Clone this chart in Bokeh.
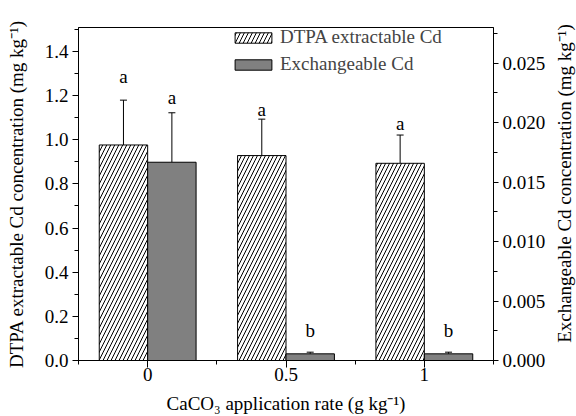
import math
import numpy as np
from bokeh.plotting import figure
from bokeh.models import (Range1d, LinearAxis, FixedTicker, SingleIntervalTicker,
                          ColumnDataSource, Whisker, TeeHead, Legend, LegendItem,
                          NumeralTickFormatter, Label)
from bokeh.core.properties import value
from bokeh.embed import file_html
from bokeh.resources import INLINE

# ---- data ----
rates = ["0", "0.5", "1"]
dtpa = [0.976, 0.928, 0.893]
dtpa_err = [0.203, 0.165, 0.128]
exch = [0.01667, 0.00056, 0.00056]
exch_err = [0.00416, 0.00014, 0.00014]
dtpa_letters = ["a", "a", "a"]
dtpa_letter_y = [1.284, 1.135, 1.072]
exch_letters = ["a", "b", "b"]
exch_letter_y = [1.19, 0.138, 0.138]

FONT = "Liberation Serif"
FS = "19px"
xs = np.arange(len(rates))
bw = 0.35

p = figure(width=576, height=416, output_backend="svg", toolbar_location=None,
           x_range=Range1d(-0.5, 2.5), y_range=Range1d(0, 1.508),
           min_border_left=78, min_border_right=83, min_border_top=27, min_border_bottom=55)
p.extra_y_ranges = {"right": Range1d(0, 0.028)}
p.grid.visible = False
p.outline_line_color = "black"
p.outline_line_width = 1
p.background_fill_color = "white"
p.border_fill_color = "white"

src_d = ColumnDataSource(dict(x=xs - bw / 2, top=dtpa, up=np.array(dtpa) + np.array(dtpa_err),
                              lab=dtpa_letters, ly=dtpa_letter_y))
src_e = ColumnDataSource(dict(x=xs + bw / 2, top=exch, up=np.array(exch) + np.array(exch_err),
                              lab=exch_letters, ly=exch_letter_y))

r1 = p.vbar(x="x", top="top", width=bw, source=src_d, fill_color="white", line_color="black",
            line_width=1, hatch_pattern="/", hatch_color="black", hatch_scale=8, hatch_weight=1)
r2 = p.vbar(x="x", top="top", width=bw, source=src_e, fill_color="#808080", line_color="black",
            line_width=1, y_range_name="right")

w1 = Whisker(base="x", lower="top", upper="up", source=src_d, line_color="black", line_width=1,
             upper_head=TeeHead(size=7, line_color="black", line_width=1), lower_head=None)
w2 = Whisker(base="x", lower="top", upper="up", source=src_e, line_color="black", line_width=1,
             upper_head=TeeHead(size=7, line_color="black", line_width=1), lower_head=None,
             y_range_name="right")
p.add_layout(w1)
p.add_layout(w2)

p.text(x="x", y="ly", text="lab", source=src_d, text_font=value(FONT), text_font_size=FS,
       text_align="center", text_baseline="middle", text_color="black")
p.text(x="x", y="ly", text="lab", source=src_e, text_font=value(FONT), text_font_size=FS,
       text_align="center", text_baseline="middle", text_color="black")

# axes
p.xaxis.ticker = FixedTicker(ticks=list(xs), minor_ticks=[-0.5, 0.5, 1.5, 2.5])
p.xaxis.major_label_overrides = {int(i): r for i, r in zip(xs, rates)}
p.xaxis.axis_label = "CaCO\u2083 application rate (g kg\u207b\u00b9)"

p.yaxis.ticker = SingleIntervalTicker(interval=0.2, num_minor_ticks=2)
p.yaxis.formatter = NumeralTickFormatter(format="0.0")
p.yaxis.axis_label = "DTPA extractable Cd concentration (mg kg\u207b\u00b9)"

ra = LinearAxis(y_range_name="right", ticker=SingleIntervalTicker(interval=0.005, num_minor_ticks=2),
                formatter=NumeralTickFormatter(format="0.000"))
p.add_layout(ra, "right")

for ax in [p.xaxis[0], p.yaxis[0], ra]:
    ax.axis_line_color = "black"
    ax.major_tick_line_color = "black"
    ax.minor_tick_line_color = "black"
    ax.major_tick_in = 0
    ax.major_tick_out = 6
    ax.minor_tick_in = 0
    ax.minor_tick_out = 4
    ax.major_label_text_font = FONT
    ax.major_label_text_font_size = FS
    ax.major_label_text_color = "black"
    ax.axis_label_text_font = FONT
    ax.axis_label_text_font_size = FS
    ax.axis_label_text_font_style = "normal"
    ax.axis_label_text_color = "black"
    ax.major_label_standoff = 4
    ax.axis_label_standoff = 10

p.yaxis[0].axis_label_standoff = 15
p.xaxis[0].major_tick_out = 7
p.xaxis[0].major_label_standoff = 0
p.xaxis[0].axis_label_standoff = 9
ra.major_tick_out = 5
ra.major_label_standoff = 4

# right-hand axis title, reading bottom to top, in the right side panel
right_label = Label(x=16, y=177, x_units="screen", y_units="screen", angle=math.pi / 2,
                    text="Exchangeable Cd concentration (mg kg\u207b\u00b9)",
                    text_font=FONT, text_font_size=FS, text_color="black",
                    text_align="center", text_baseline="middle")
p.add_layout(right_label, "right")

legend = Legend(items=[LegendItem(label="DTPA extractable Cd", renderers=[r1]),
                       LegendItem(label="Exchangeable Cd", renderers=[r2])],
                location=(152, 285), padding=0, margin=0, spacing=5,
                glyph_width=46, glyph_height=13, label_height=13, label_standoff=4,
                label_text_font=FONT, label_text_font_size=FS,
                border_line_color=None, background_fill_alpha=0)
p.add_layout(legend)

open("out.html", "w").write(file_html(p, INLINE))
